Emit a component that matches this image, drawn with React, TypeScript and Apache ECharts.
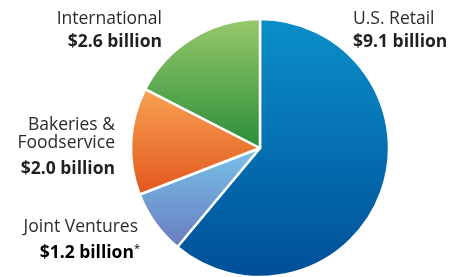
import React, { useEffect, useRef } from "react";
import * as echarts from "echarts";

const categories = ["U.S. Retail", "Joint Ventures", "Bakeries &\nFoodservice", "International"];
const values = [9.1, 1.2, 2.0, 2.6];
const valueLabels = ["$9.1 billion", "$1.2 billion", "$2.0 billion", "$2.6 billion"];
const topColors = ["#0a8fc9", "#78c2ea", "#f7a255", "#98c86c"];
const bottomColors = ["#004f98", "#6a7cbf", "#e2561d", "#2a8e39"];

export default function App() {
  const ref = useRef<HTMLDivElement>(null);
  useEffect(() => {
    const chart = echarts.init(ref.current!, null, { renderer: "svg" });
    const font = "'Open Sans', Lato, sans-serif";
    const nameStyle = { fontFamily: font, fontSize: 17.5, fill: "#2b2b2b" };
    const valStyle = { fontFamily: font, fontSize: 17.5, fontWeight: "bold", fill: "#231f20" };
    const bakeryLines = categories[2].split("\n");
    chart.setOption({
      animation: false,
      series: [
        {
          type: "pie",
          center: [260, 148],
          radius: [0, 129],
          startAngle: 90,
          clockwise: true,
          label: { show: false },
          labelLine: { show: false },
          silent: true,
          data: categories.map((c, i) => ({
            name: c,
            value: values[i],
            itemStyle: {
              borderColor: "#ffffff",
              borderWidth: 2.5,
              color: new echarts.graphic.LinearGradient(0, 0, 0, 1, [
                { offset: 0, color: topColors[i] },
                { offset: 1, color: bottomColors[i] },
              ]),
            },
          })),
        },
      ],
      graphic: [
        { type: "text", x: 353, y: 7.5, style: { ...nameStyle, text: categories[0], textAlign: "left" } },
        { type: "text", x: 353, y: 31, style: { ...valStyle, text: valueLabels[0], textAlign: "left" } },
        { type: "text", x: 162, y: 7.5, style: { ...nameStyle, text: categories[3], textAlign: "right" } },
        { type: "text", x: 162, y: 31, style: { ...valStyle, text: valueLabels[3], textAlign: "right" } },
        { type: "text", x: 115, y: 114, style: { ...nameStyle, text: bakeryLines[0], textAlign: "right" } },
        { type: "text", x: 115, y: 132, style: { ...nameStyle, text: bakeryLines[1], textAlign: "right" } },
        { type: "text", x: 115, y: 158, style: { ...valStyle, text: valueLabels[2], textAlign: "right" } },
        { type: "text", x: 138, y: 216, style: { ...nameStyle, text: categories[1], textAlign: "right" } },
        {
          type: "text",
          x: 140,
          y: 241.5,
          style: {
            text: "{v|" + valueLabels[1] + "}{s|*}",
            textAlign: "right",
            rich: {
              v: { fontFamily: font, fontSize: 17.5, fontWeight: "bold", color: "#231f20" },
              s: { fontFamily: font, fontSize: 11, color: "#231f20", verticalAlign: "top", padding: [0, 0, 6, 0] },
            },
          },
        },
      ],
    });
    return () => chart.dispose();
  }, []);
  return <div ref={ref} style={{ position: "fixed", left: 0, top: 0, width: 456, height: 277 }} />;
}
